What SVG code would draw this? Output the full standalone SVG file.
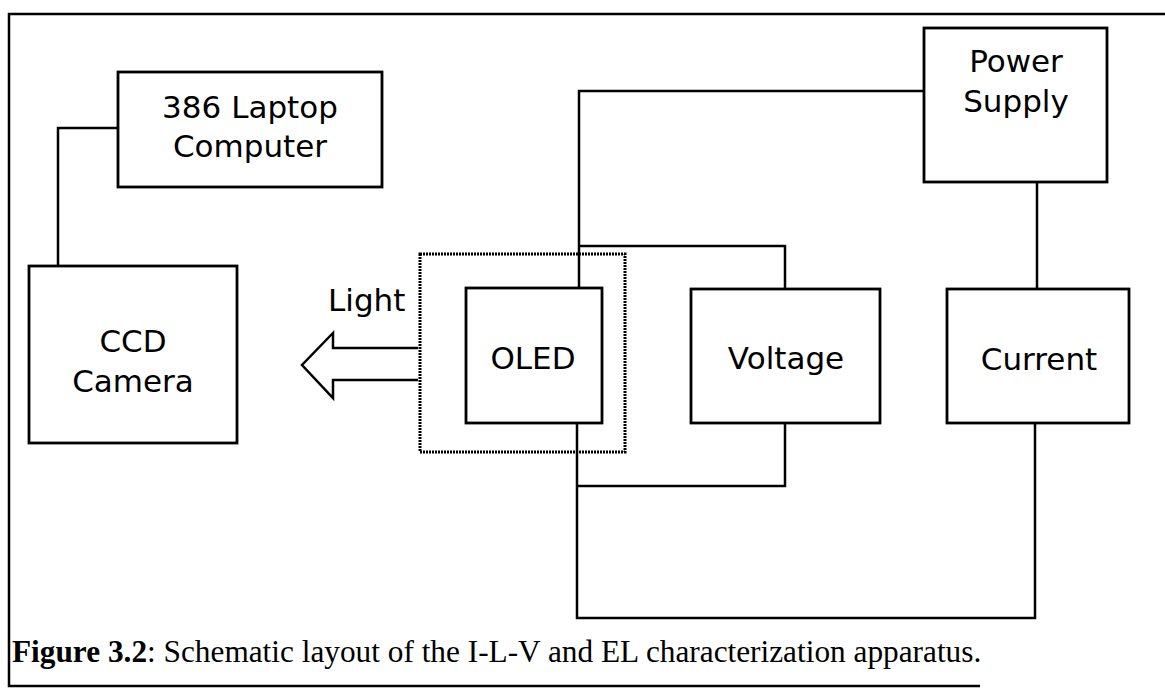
<svg xmlns="http://www.w3.org/2000/svg" width="1165" height="688" viewBox="0 0 1165 688">
<style>
.box{fill:#fff;stroke:#000;stroke-width:2.8}
.lbl{font-family:"DejaVu Sans","Liberation Sans",sans-serif;font-size:31px;fill:#000;text-anchor:middle}
.wire{fill:none;stroke:#000;stroke-width:2.5}
.frame{fill:none;stroke:#000;stroke-width:2.5}
.cap{font-family:"Liberation Serif","DejaVu Serif",serif;font-size:31.3px;fill:#000}
</style>
<rect width="1165" height="688" fill="#fff"/>
<g id="frame">
<polyline class="frame" points="1165,14 9,14 9,686 980,686"/>
</g>
<g id="connectors">
<polyline class="wire" points="118,128 58,128 58,266"/>
<polyline class="wire" points="924,91 579,91 579,288"/>
<polyline class="wire" points="579,246 785,246 785,289"/>
<polyline class="wire" points="577,486 785,486 785,423"/>
<polyline class="wire" points="577,423 577,618 1035,618 1035,423"/>
<polyline class="wire" points="1037,182 1037,289"/>
<polyline class="wire" stroke-width="2.8" stroke-linejoin="miter" points="418,348 333,348 333,333 302,365 333,398 333,380 418,380"/>
</g>
<g id="enclosure">
<rect x="420" y="254" width="205" height="198" fill="none" stroke="#000" stroke-width="3" stroke-dasharray="2 1"/>
</g>
<g id="laptop">
<rect class="box" x="118" y="72" width="264" height="115"/>
<text class="lbl" x="250" y="118">386 Laptop</text>
<text class="lbl" x="250" y="157">Computer</text>
</g>
<g id="ccd">
<rect class="box" x="29" y="266" width="208" height="177"/>
<text class="lbl" x="133" y="352">CCD</text>
<text class="lbl" x="133" y="392">Camera</text>
</g>
<g id="light">
<text class="lbl" x="328" y="311" style="text-anchor:start">Light</text>
</g>
<g id="oled">
<rect class="box" x="466" y="288" width="136" height="135"/>
<text class="lbl" x="533" y="369">OLED</text>
</g>
<g id="voltage">
<rect class="box" x="691" y="289" width="189" height="134"/>
<text class="lbl" x="786" y="369">Voltage</text>
</g>
<g id="current">
<rect class="box" x="947" y="289" width="182" height="134"/>
<text class="lbl" x="1039" y="370">Current</text>
</g>
<g id="power">
<rect class="box" x="924" y="28" width="183" height="154"/>
<text class="lbl" x="1016" y="72">Power</text>
<text class="lbl" x="1016" y="112">Supply</text>
</g>
<g id="caption">
<text class="cap" x="12" y="662"><tspan font-weight="bold">Figure 3.2</tspan>: Schematic layout of the I-L-V and EL characterization apparatus.</text>
</g>
</svg>
